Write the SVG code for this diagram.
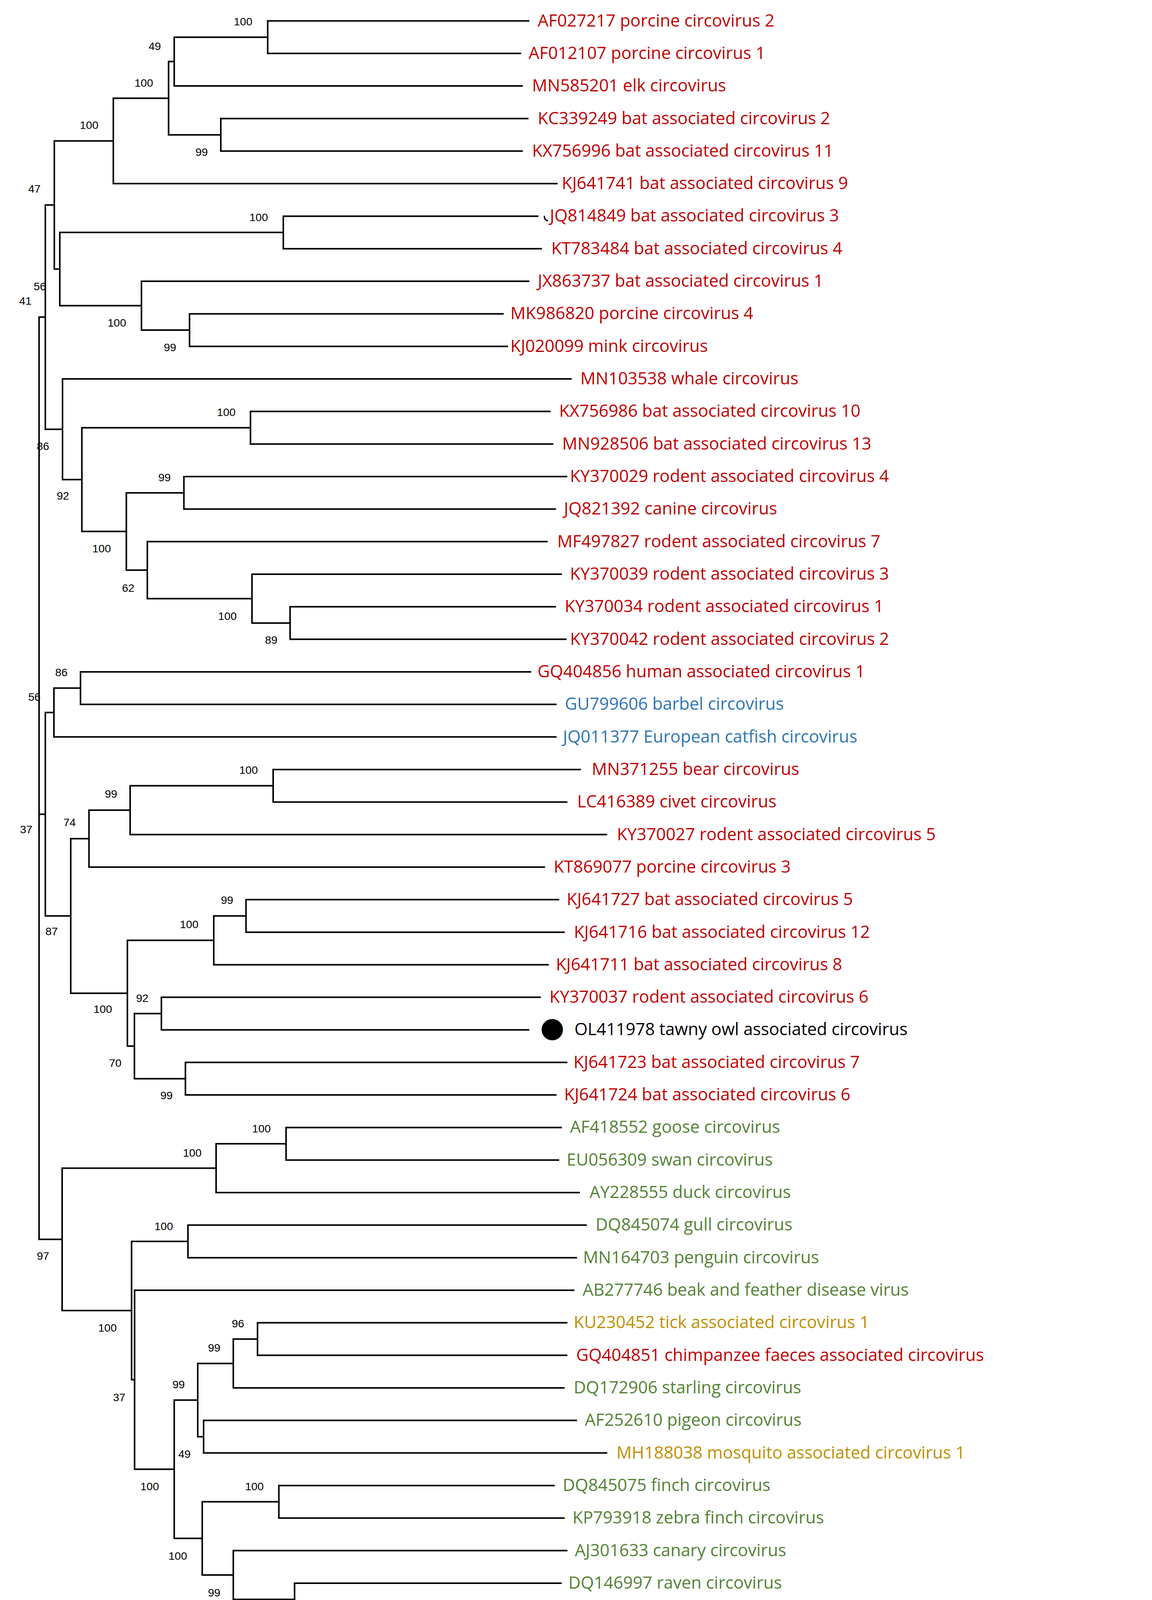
<svg xmlns="http://www.w3.org/2000/svg" width="2948" height="4623" viewBox="0 0 2948 4623">
<style>
.br{fill:none;stroke:#000;stroke-width:4;stroke-linecap:square;stroke-linejoin:miter}
.lf{font-family:"Open Sans","Noto Sans",sans-serif;font-size:43.5px}
.bs{font-family:"Liberation Sans",Arial,sans-serif;font-size:28.5px;text-anchor:middle;fill:#000}
.m{fill:#C00000}.f{fill:#2E75B6}.a{fill:#548235}.i{fill:#BF9000}.k{fill:#000}
.lg{font-family:"Open Sans","Noto Sans",sans-serif;font-size:71px;fill:#000}
.box{stroke:#000;stroke-width:4}
</style>
<rect width="2948" height="4623" fill="#fff"/>
<g id="connectors" class="br">
<path d="M1352.7,53.5 H685 V136.8 H1331.5"/>
<path d="M685,95.15 H445.8 V220.1 H1336"/>
<path d="M1350.5,303.5 H565 V386.8 H1336"/>
<path d="M445.8,157.6 H431.4 V345.15 H565"/>
<path d="M431.4,251.4 H290 V470.1 H1425"/>
<path d="M1376,553.4 H725 V636.7 H1385"/>
<path d="M1287,803.4 H485 V886.7 H1298"/>
<path d="M1352.7,720.1 H362 V845.05 H485"/>
<path d="M725,595.05 H153 V782.6 H362"/>
<path d="M290,360.75 H139 V688.8 H153"/>
<path d="M1407,1053.3 H641 V1136.7 H1414"/>
<path d="M1449.7,1220 H470.6 V1303.3 H1420.7"/>
<path d="M1420.7,1553.3 H742.3 V1636.6 H1448"/>
<path d="M1436,1469.9 H644.8 V1594.95 H742.3"/>
<path d="M1399.5,1386.6 H377 V1532.4 H644.8"/>
<path d="M470.6,1261.65 H323.3 V1459.5 H377"/>
<path d="M641,1095 H209.5 V1360.6 H323.3"/>
<path d="M1461,970 H160 V1227.8 H209.5"/>
<path d="M139,524.8 H116 V1098.9 H160"/>
<path d="M1357.4,1719.9 H206 V1803.2 H1422.4"/>
<path d="M206,1761.55 H138 V1886.5 H1422.4"/>
<path d="M1484.6,1969.9 H699 V2053.2 H1450"/>
<path d="M699,2011.55 H333 V2136.5 H1551.6"/>
<path d="M333,2074 H227.7 V2219.8 H1392.8"/>
<path d="M1429,2303.1 H629.5 V2386.5 H1443.5"/>
<path d="M629.5,2344.8 H547 V2469.8 H1402.4"/>
<path d="M1382,2553.1 H413 V2636.4 H1352.6"/>
<path d="M1450,2719.7 H474.5 V2803.1 H1422.4"/>
<path d="M413,2594.75 H344 V2761.4 H474.5"/>
<path d="M547,2407.3 H326 V2678.1 H344"/>
<path d="M227.7,2146.9 H181 V2542.7 H326"/>
<path d="M138,1824 H116 V2344.8 H181"/>
<path d="M1435.8,2886.4 H732 V2969.7 H1429"/>
<path d="M732,2928.05 H553 V3053 H1481.8"/>
<path d="M1499.7,3136.3 H481 V3219.7 H1474.5"/>
<path d="M1450,3386.3 H659 V3469.6 H1450"/>
<path d="M659,3427.95 H597 V3552.9 H1443"/>
<path d="M1474.5,3636.3 H521 V3719.6 H1552"/>
<path d="M597,3490.4 H506 V3677.95 H521"/>
<path d="M1417.7,3802.9 H713.6 V3886.2 H1443"/>
<path d="M1435.6,4052.9 H753.8 V4136.2 H1411.4"/>
<path d="M1450,3969.5 H597 V4094.55 H753.8"/>
<path d="M713.6,3844.55 H517.5 V4032 H597"/>
<path d="M506,3584.2 H445.8 V3938.3 H517.5"/>
<path d="M1468,3303 H344.4 V3761.25 H445.8"/>
<path d="M481,3178 H336.7 V3532.1 H344.4"/>
<path d="M553,2990.5 H159 V3355.05 H336.7"/>
<path d="M116,811.85 H100 V3172.8 H159 M100,2084.4 H116"/>
<path d="M1393,554 Q1393,563 1401,565" stroke-width="3.5" stroke-linecap="round"/>
</g>
<g id="bootstrap" class="bs">
<text x="622" y="65">100</text>
<text x="396" y="128">49</text>
<text x="368" y="222">100</text>
<text x="516" y="399">99</text>
<text x="228" y="330">100</text>
<text x="88" y="493">47</text>
<text x="662" y="566">100</text>
<text x="102" y="743">56</text>
<text x="65" y="780">41</text>
<text x="299" y="836">100</text>
<text x="435" y="899">99</text>
<text x="579" y="1065">100</text>
<text x="110" y="1152">86</text>
<text x="421" y="1232">99</text>
<text x="161" y="1279">92</text>
<text x="260" y="1414">100</text>
<text x="328" y="1515">62</text>
<text x="582" y="1587">100</text>
<text x="694" y="1648">89</text>
<text x="157" y="1731">86</text>
<text x="88" y="1794">56</text>
<text x="636" y="1981">100</text>
<text x="284" y="2042">99</text>
<text x="178" y="2115">74</text>
<text x="67" y="2133">37</text>
<text x="581" y="2314">99</text>
<text x="484" y="2376">100</text>
<text x="132" y="2394">87</text>
<text x="364" y="2565">92</text>
<text x="263" y="2593">100</text>
<text x="295" y="2731">70</text>
<text x="426" y="2814">99</text>
<text x="669" y="2899">100</text>
<text x="492" y="2961">100</text>
<text x="419" y="3149">100</text>
<text x="110" y="3225">97</text>
<text x="275" y="3409">100</text>
<text x="609" y="3398">96</text>
<text x="548" y="3460">99</text>
<text x="457" y="3554">99</text>
<text x="305" y="3587">37</text>
<text x="472" y="3732">49</text>
<text x="383" y="3815">100</text>
<text x="651" y="3815">100</text>
<text x="455" y="3993">100</text>
<text x="548" y="4087">99</text>
<text x="691" y="4148">100</text>
</g>
<g id="leaves" class="lf">
<g id="n1"><text class="m" x="1376" y="67.5">AF027217 porcine circovirus 2</text></g>
<g id="n2"><text class="m" x="1352.7" y="150.8">AF012107 porcine circovirus 1</text></g>
<g id="n3"><text class="m" x="1361.6" y="234.1">MN585201 elk circovirus</text></g>
<g id="n4"><text class="m" x="1376" y="317.5">KC339249 bat associated circovirus 2</text></g>
<g id="n5"><text class="m" x="1361.6" y="400.8">KX756996 bat associated circovirus 11</text></g>
<g id="n6"><text class="m" x="1437.5" y="484.1">KJ641741 bat associated circovirus 9</text></g>
<g id="n7"><text class="m" x="1407" y="567.4">JQ814849 bat associated circovirus 3</text></g>
<g id="n8"><text class="m" x="1410.7" y="650.7">KT783484 bat associated circovirus 4</text></g>
<g id="n9"><text class="m" x="1376" y="734.1">JX863737 bat associated circovirus 1</text></g>
<g id="n10"><text class="m" x="1306" y="817.4">MK986820 porcine circovirus 4</text></g>
<g id="n11"><text class="m" x="1306" y="900.7">KJ020099 mink circovirus</text></g>
<g id="n12"><text class="m" x="1485" y="984">MN103538 whale circovirus</text></g>
<g id="n13"><text class="m" x="1430.8" y="1067.3">KX756986 bat associated circovirus 10</text></g>
<g id="n14"><text class="m" x="1438.6" y="1150.7">MN928506 bat associated circovirus 13</text></g>
<g id="n15"><text class="m" x="1458.6" y="1234">KY370029 rodent associated circovirus 4</text></g>
<g id="n16"><text class="m" x="1443" y="1317.3">JQ821392 canine circovirus</text></g>
<g id="n17"><text class="m" x="1426" y="1400.6">MF497827 rodent associated circovirus 7</text></g>
<g id="n18"><text class="m" x="1458.6" y="1483.9">KY370039 rodent associated circovirus 3</text></g>
<g id="n19"><text class="m" x="1445" y="1567.3">KY370034 rodent associated circovirus 1</text></g>
<g id="n20"><text class="m" x="1458.8" y="1650.6">KY370042 rodent associated circovirus 2</text></g>
<g id="n21"><text class="m" x="1375.6" y="1733.9">GQ404856 human associated circovirus 1</text></g>
<g id="n22"><text class="f" x="1445.4" y="1817.2">GU799606 barbel circovirus</text></g>
<g id="n23"><text class="f" x="1440.6" y="1900.5">JQ011377 European catfish circovirus</text></g>
<g id="n24"><text class="m" x="1514.3" y="1983.9">MN371255 bear circovirus</text></g>
<g id="n25"><text class="m" x="1477" y="2067.2">LC416389 civet circovirus</text></g>
<g id="n26"><text class="m" x="1578.4" y="2150.5">KY370027 rodent associated circovirus 5</text></g>
<g id="n27"><text class="m" x="1416.7" y="2233.8">KT869077 porcine circovirus 3</text></g>
<g id="n28"><text class="m" x="1450" y="2317.1">KJ641727 bat associated circovirus 5</text></g>
<g id="n29"><text class="m" x="1468.4" y="2400.5">KJ641716 bat associated circovirus 12</text></g>
<g id="n30"><text class="m" x="1422.4" y="2483.8">KJ641711 bat associated circovirus 8</text></g>
<g id="n31"><text class="m" x="1406" y="2567.1">KY370037 rodent associated circovirus 6</text></g>
<g id="n32"><circle cx="1413.3" cy="2636" r="27.3" fill="#000"/><text class="k" x="1470" y="2650.4">OL411978 tawny owl associated circovirus</text></g>
<g id="n33"><text class="m" x="1467.4" y="2733.7">KJ641723 bat associated circovirus 7</text></g>
<g id="n34"><text class="m" x="1443.5" y="2817.1">KJ641724 bat associated circovirus 6</text></g>
<g id="n35"><text class="a" x="1458.8" y="2900.4">AF418552 goose circovirus</text></g>
<g id="n36"><text class="a" x="1450" y="2983.7">EU056309 swan circovirus</text></g>
<g id="n37"><text class="a" x="1508.5" y="3067">AY228555 duck circovirus</text></g>
<g id="n38"><text class="a" x="1524" y="3150.3">DQ845074 gull circovirus</text></g>
<g id="n39"><text class="a" x="1492" y="3233.7">MN164703 penguin circovirus</text></g>
<g id="n40"><text class="a" x="1491" y="3317">AB277746 beak and feather disease virus</text></g>
<g id="n41"><text class="i" x="1468" y="3400.3">KU230452 tick associated circovirus 1</text></g>
<g id="n42"><text class="m" x="1474.5" y="3483.6">GQ404851 chimpanzee faeces associated circovirus</text></g>
<g id="n43"><text class="a" x="1468" y="3566.9">DQ172906 starling circovirus</text></g>
<g id="n44"><text class="a" x="1496.5" y="3650.3">AF252610 pigeon circovirus</text></g>
<g id="n45"><text class="i" x="1577.5" y="3733.6">MH188038 mosquito associated circovirus 1</text></g>
<g id="n46"><text class="a" x="1440" y="3816.9">DQ845075 finch circovirus</text></g>
<g id="n47"><text class="a" x="1465" y="3900.2">KP793918 zebra finch circovirus</text></g>
<g id="n48"><text class="a" x="1471" y="3983.5">AJ301633 canary circovirus</text></g>
<g id="n49"><text class="a" x="1454.5" y="4066.9">DQ146997 raven circovirus</text></g>
<g id="n50"><text class="i" x="1433.5" y="4150.2">KX987146 tick associated circovirus 2</text></g>
</g>
<g id="scale">
<path d="M100.4,4303.5 H343.4 M100.4,4288 V4318 M343.4,4288 V4318" fill="none" stroke="#000" stroke-width="4"/>
<text x="203" y="4405" class="bs" style="font-size:29px">0.050</text>
</g>
<g id="legend">
<g id="leg-mammal"><rect class="box" x="1371.5" y="4288" width="112.5" height="110.5" rx="18" fill="#C00000"/><text class="lg" x="1545" y="4369.5">mammalian origin</text></g>
<g id="leg-avian"><rect class="box" x="2334" y="4288" width="111.5" height="110.5" rx="18" fill="#548235"/><text class="lg" x="2506.6" y="4369.5">avian origin</text></g>
<g id="leg-fish"><rect class="box" x="1371.5" y="4466.6" width="112.5" height="110.5" rx="18" fill="#2E75B6"/><text class="lg" x="1545" y="4547">fish origin</text></g>
<g id="leg-insect"><rect class="box" x="2334" y="4466.6" width="111.5" height="110.5" rx="18" fill="#BF9000"/><text class="lg" x="2506.6" y="4547">insect origin</text></g>
</g>
</svg>
